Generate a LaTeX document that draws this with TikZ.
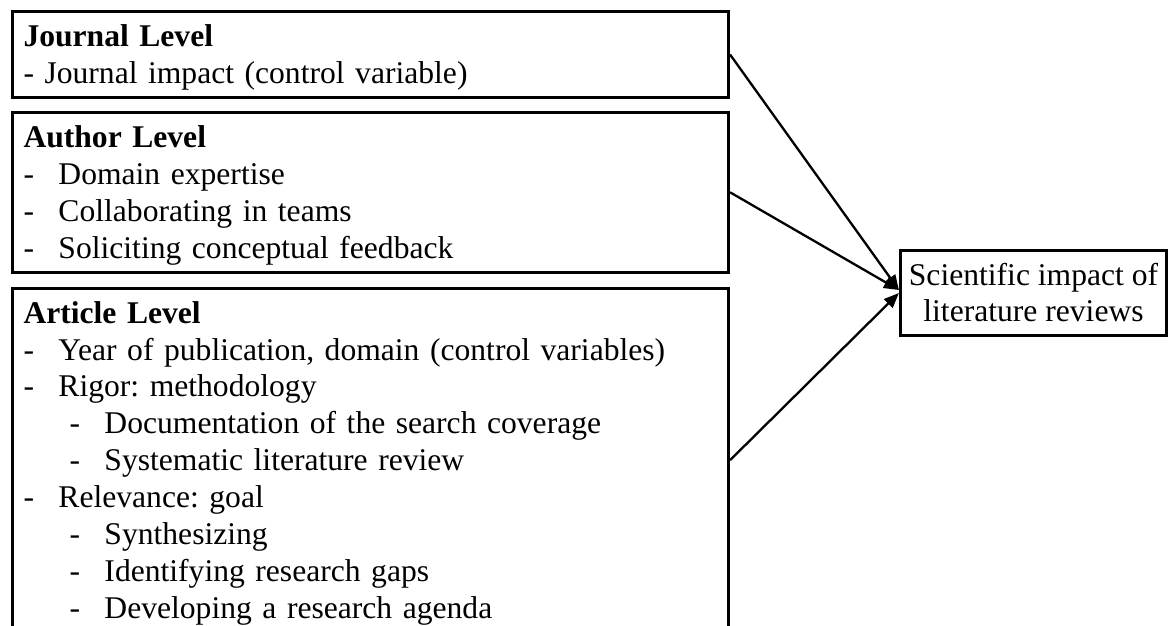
\documentclass[tikz,border=0pt]{standalone}
\usepackage{fontspec}
\setmainfont{Liberation Serif}
\usepackage{tikz}
\usetikzlibrary{positioning, arrows.meta}
\frenchspacing
\newcommand{\topstrut}{\rule{0pt}{31pt}}
\newcommand{\botstrut}{\rule[-10pt]{0pt}{10pt}}
\newcommand{\itm}{\makebox[35pt][l]{-}}
\newcommand{\subitm}{\hspace*{46pt}\makebox[35pt][l]{-}}

\begin{document}
\begin{tikzpicture}[
  x=1pt, y=1pt,
  >={Triangle[length=15pt, width=12pt]},
  node distance=12pt,
  % --- Styles ---
  lvlbox/.style={
    rectangle, draw=black, line width=3pt, text width=694pt,
    align=left, inner xsep=11pt, inner ysep=4pt,
    font=\fontsize{31.6}{36.9}\selectfont},
  outbox/.style={
    rectangle, draw=black, line width=3pt, align=center,
    inner xsep=8.5pt, inner ysep=4pt,
    font=\fontsize{31.6}{36.9}\selectfont},
  myarr/.style={->, line width=2.3pt, black},
]
\useasboundingbox (0,0) rectangle (1169,-625);
\clip (0,0) rectangle (1169,-625);
% === NODES ===
% 1. Journal level
\node[lvlbox, anchor=north west] (J) at (11,-10) {%
  \topstrut\textbf{Journal Level}\\
  - Journal impact (control variable)\botstrut};
% 2. Author level
\node[lvlbox, below=12pt of J] (A) {%
  \topstrut\textbf{Author Level}\\
  \itm Domain expertise\\
  \itm Collaborating in teams\\
  \itm Soliciting conceptual feedback\botstrut};
% 3. Article level
\node[lvlbox, below=13pt of A] (R) {%
  \topstrut\textbf{Article Level}\\
  \itm Year of publication, domain (control variables)\\
  \itm Rigor: methodology\\
  \subitm Documentation of the search coverage\\
  \subitm Systematic literature review\\
  \itm Relevance: goal\\
  \subitm Synthesizing\\
  \subitm Identifying research gaps\\
  \subitm Developing a research agenda\botstrut};
% 4. Outcome
\node[outbox] (T) at (1033.5,-293) {%
  \topstrut Scientific impact of\\
  literature reviews\botstrut};
% === ARROWS ===
\draw[myarr] (J.east) -- ([yshift=3pt]T.west);
\draw[myarr] (A.east) -- ([yshift=3pt]T.west);
\draw[myarr] (R.east) -- (T.west);
\end{tikzpicture}
\end{document}
